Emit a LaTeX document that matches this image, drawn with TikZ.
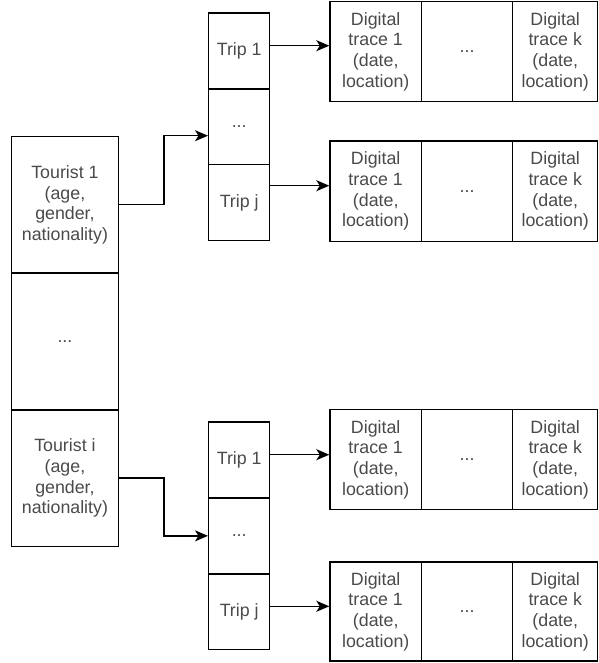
\documentclass[tikz,border=0pt]{standalone}
\usepackage{fontspec}
\setmainfont{Liberation Sans}
\usetikzlibrary{arrows.meta}
\definecolor{txt}{HTML}{4A4A4A}
\tikzset{
  cell/.style={draw=black, line width=1.4pt, rectangle, inner sep=0pt, anchor=north west,
    align=center, text=txt, font=\fontsize{17.8}{20.7}\selectfont},
  arr/.style={draw=black, line width=1.4pt, -{Stealth[length=13pt,width=11pt,inset=3.5pt]}},
}
\begin{document}
\begin{tikzpicture}[x=1pt,y=-1pt]
\useasboundingbox (0,0) rectangle (598,663);
% Tourists
\node[cell, minimum width=106.5pt, minimum height=136.7pt] (tour1) at (11,135.7) {Tourist 1\\(age,\\gender,\\nationality)};
\node[cell, minimum width=106.5pt, minimum height=136.7pt] (tourdots) at (11,272.4) {...};
\node[cell, minimum width=106.5pt, minimum height=136.7pt] (touri) at (11,409.1) {Tourist i\\(age,\\gender,\\nationality)};
% Trips, upper
\node[cell, minimum width=61pt, minimum height=75.9pt] (tripA1) at (208,12.3) {Trip 1};
\node[cell, minimum width=61pt, minimum height=75.9pt] (tripAd) at (208,88.2) {...};
\node[cell, minimum width=61pt, minimum height=75.9pt] (tripAj) at (208,164.1) {Trip j};
% Trips, lower
\node[cell, minimum width=61pt, minimum height=75.9pt] (tripB1) at (208,421.3) {Trip 1};
\node[cell, minimum width=61pt, minimum height=75.9pt] (tripBd) at (208,497.2) {...};
\node[cell, minimum width=61pt, minimum height=75.9pt] (tripBj) at (208,573.1) {Trip j};
% Digital traces
\foreach \nm/\yy/\hh in {dA/0.8/100, dB/140.4/100.3, dC/409/100, dD/561.3/98.9}{
  \node[cell, minimum width=91.4pt, minimum height=\hh pt] (\nm1) at (329.3,\yy) {Digital\\trace 1\\(date,\\location)};
  \node[cell, minimum width=91.3pt, minimum height=\hh pt] (\nm2) at (420.7,\yy) {...};
  \node[cell, minimum width=85pt, minimum height=\hh pt] (\nm3) at (512,\yy) {Digital\\trace k\\(date,\\location)};
}
% Connectors
\draw[arr] (tour1.east) -- ++(45,0) |- (tripAd.west |- 0,135.7);
\draw[arr] (touri.east) -- ++(45,0) |- (tripBd.west);
\draw[arr] (tripA1.east |- 0,45.7) -- (dA1.west |- 0,45.7);
\draw[arr] (tripAj.east |- 0,185.7) -- (dB1.west |- 0,185.7);
\draw[arr] (tripB1.east |- 0,454.7) -- (dC1.west |- 0,454.7);
\draw[arr] (tripBj.east |- 0,606.3) -- (dD1.west |- 0,606.3);
\end{tikzpicture}
\end{document}
